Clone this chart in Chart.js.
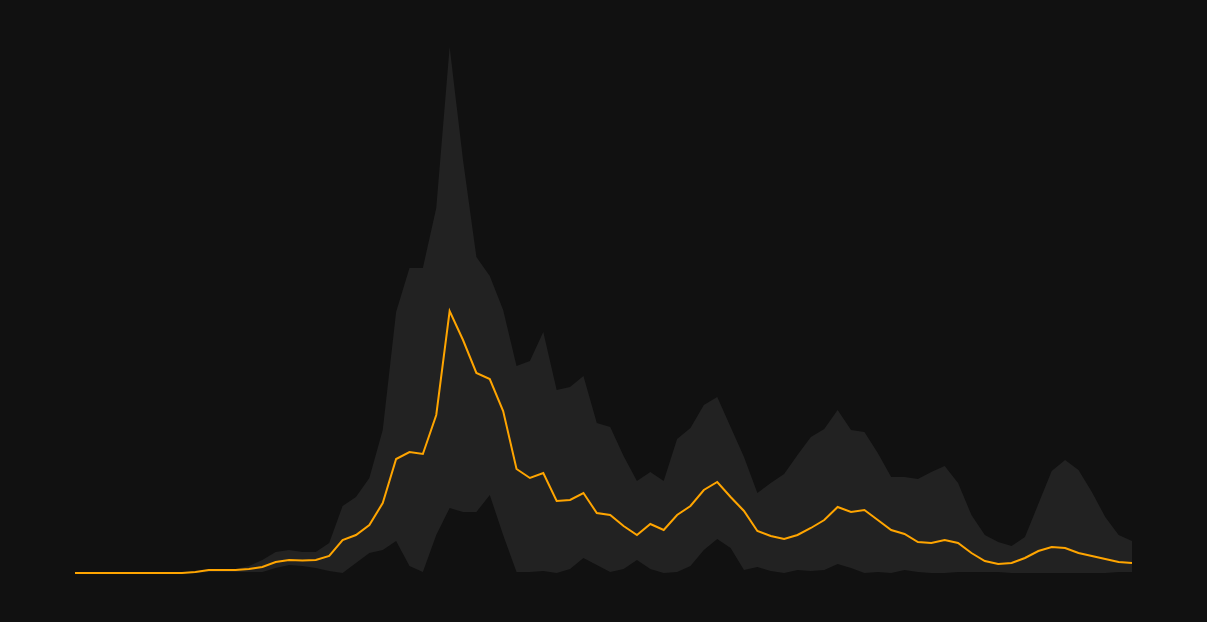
<!DOCTYPE html>
<html>
<head>
<meta charset="utf-8">
<script src="https://cdn.jsdelivr.net/npm/chart.js@4.4.1/dist/chart.umd.min.js"></script>
<style>
  html, body { margin: 0; padding: 0; background: #111111; }
  #wrap { width: 1207px; height: 622px; }
</style>
</head>
<body>
<div id="wrap"><canvas id="c" width="1207" height="622"></canvas></div>
<script>
// 80 evenly spaced samples
const categories = Array.from({length: 80}, (_, i) => String(i + 1));

// central series (orange line)
const meanValues = [
  0, 0, 0, 0, 0, 0, 0, 0, 0, 1,
  3, 3, 3, 4, 6, 11, 13, 12.5, 13, 17,
  33, 38, 48, 70, 114, 121, 119, 158, 262, 233,
  200, 194, 162, 104, 95, 100, 72, 73, 80, 60,
  58, 47, 38, 49, 43, 58, 67, 83, 91, 76,
  62, 42, 37, 34, 38, 45, 53, 66, 61, 63,
  53, 43, 39, 31, 30, 33, 30, 20, 12, 9,
  10, 15, 22, 26, 25, 20, 17, 14, 11, 10
];

// upper edge of range band
const upperValues = [
  0, 0, 0, 0, 0, 0, 0, 0, 0, 1,
  4, 4, 4, 7, 13, 21, 23, 21, 21, 30,
  67, 76, 95, 143, 261, 305, 305, 365, 526, 413,
  316, 297, 263, 207, 212, 241, 183, 186, 197, 150,
  146, 117, 92, 101, 92, 134, 145, 168, 176, 146,
  116, 80, 90, 99, 118, 136, 144, 163, 143, 141,
  120, 96, 96, 94, 101, 107, 90, 58, 38, 31,
  27, 36, 69, 102, 113, 103, 81, 56, 38, 32
];

// lower edge of range band
const lowerValues = [
  0, 0, 0, 0, 0, 0, 0, 0, 0, 0,
  1, 1, 1, 1, 1, 5, 8, 7, 5, 2,
  0, 10, 20, 23, 32, 7, 1, 38, 65, 61,
  61, 78, 38, 1, 1, 2, 0, 4, 15, 8,
  1, 4, 13, 4, 0, 1, 7, 23, 34, 25,
  3, 6, 2, 0, 3, 2, 3, 9, 5, 0,
  1, 0, 3, 1, 0, 0, 1, 1, 1, 1,
  0, 0, 0, 0, 0, 0, 0, 0, 1, 1
];

const yMax = 526;

new Chart(document.getElementById('c'), {
  type: 'line',
  data: {
    labels: categories,
    datasets: [
      {
        label: 'upper',
        data: upperValues,
        borderWidth: 0,
        borderColor: 'rgba(0,0,0,0)',
        backgroundColor: '#222222',
        pointRadius: 0,
        fill: '+1',
        tension: 0,
        order: 3
      },
      {
        label: 'lower',
        data: lowerValues,
        borderWidth: 0,
        borderColor: 'rgba(0,0,0,0)',
        backgroundColor: '#222222',
        pointRadius: 0,
        fill: false,
        tension: 0,
        order: 2
      },
      {
        label: 'mean',
        data: meanValues,
        borderWidth: 2,
        borderColor: '#ffa500',
        backgroundColor: '#ffa500',
        pointRadius: 0,
        fill: false,
        tension: 0,
        clip: false,
        order: 1
      }
    ]
  },
  options: {
    responsive: false,
    animation: false,
    events: [],
    layout: { padding: { left: 75, right: 75, top: 47, bottom: 49 } },
    plugins: { legend: { display: false }, tooltip: { enabled: false } },
    scales: {
      x: { display: false, offset: false },
      y: { display: false, min: 0, max: yMax }
    }
  }
});
</script>
</body>
</html>
